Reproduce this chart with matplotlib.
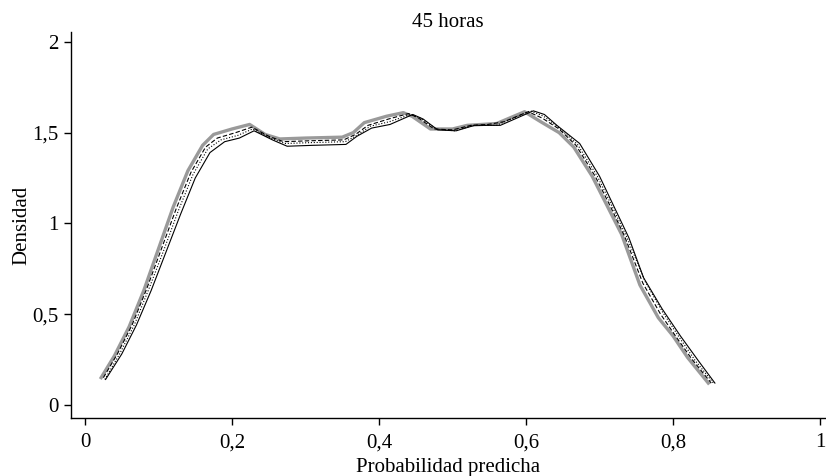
import matplotlib.pyplot as plt
from matplotlib.ticker import FuncFormatter

plt.rcParams['font.family'] = ['Liberation Serif', 'DejaVu Serif']

# densidades (45 horas)
x_gris = [0.022, 0.04, 0.06, 0.08, 0.10, 0.12, 0.14, 0.16, 0.175, 0.20, 0.224, 0.245, 0.265, 0.30,
          0.35, 0.365, 0.38, 0.41, 0.433, 0.445, 0.47, 0.50, 0.52, 0.54, 0.56, 0.598, 0.62, 0.645,
          0.665, 0.69, 0.71, 0.73, 0.755, 0.78, 0.80, 0.82, 0.848]
y_gris = [0.15, 0.27, 0.43, 0.63, 0.86, 1.09, 1.29, 1.43, 1.49, 1.52, 1.545, 1.49, 1.465, 1.47,
          1.475, 1.50, 1.555, 1.59, 1.61, 1.59, 1.52, 1.52, 1.54, 1.545, 1.55, 1.615, 1.56, 1.50,
          1.42, 1.26, 1.10, 0.94, 0.66, 0.48, 0.38, 0.26, 0.12]

x_guion = [0.025, 0.044, 0.064, 0.084, 0.104, 0.124, 0.144, 0.164, 0.18, 0.205, 0.227, 0.25, 0.27,
           0.305, 0.352, 0.368, 0.385, 0.413, 0.44, 0.452, 0.475, 0.50, 0.525, 0.548, 0.57, 0.603,
           0.622, 0.645, 0.668, 0.694, 0.714, 0.734, 0.759, 0.783, 0.805, 0.826, 0.852]
y_guion = [0.15, 0.28, 0.44, 0.64, 0.86, 1.08, 1.28, 1.42, 1.47, 1.50, 1.53, 1.48, 1.45,
           1.455, 1.46, 1.49, 1.54, 1.575, 1.605, 1.585, 1.52, 1.515, 1.54, 1.545, 1.56, 1.615,
           1.58, 1.52, 1.43, 1.26, 1.10, 0.93, 0.67, 0.50, 0.37, 0.25, 0.12]

x_punto = [0.027, 0.047, 0.067, 0.087, 0.107, 0.127, 0.147, 0.167, 0.185, 0.208, 0.228, 0.252, 0.272,
           0.308, 0.354, 0.37, 0.388, 0.414, 0.443, 0.456, 0.478, 0.503, 0.528, 0.56, 0.606, 0.624,
           0.644, 0.67, 0.697, 0.717, 0.737, 0.762, 0.786, 0.808, 0.83, 0.855]
y_punto = [0.14, 0.28, 0.44, 0.64, 0.85, 1.07, 1.27, 1.41, 1.46, 1.485, 1.52, 1.47, 1.44,
           1.445, 1.45, 1.485, 1.535, 1.56, 1.60, 1.58, 1.52, 1.51, 1.54, 1.54, 1.62, 1.59,
           1.53, 1.435, 1.26, 1.095, 0.925, 0.68, 0.51, 0.375, 0.245, 0.12]

x_negro = [0.028, 0.05, 0.07, 0.09, 0.11, 0.13, 0.15, 0.17, 0.19, 0.21, 0.23, 0.255, 0.275, 0.31,
           0.355, 0.37, 0.39, 0.415, 0.446, 0.46, 0.48, 0.505, 0.53, 0.565, 0.61, 0.625, 0.642,
           0.673, 0.70, 0.72, 0.74, 0.76, 0.785, 0.81, 0.835, 0.857]
y_negro = [0.14, 0.28, 0.44, 0.63, 0.84, 1.05, 1.25, 1.39, 1.45, 1.47, 1.51, 1.46, 1.425, 1.43,
           1.435, 1.48, 1.525, 1.545, 1.60, 1.575, 1.515, 1.51, 1.54, 1.54, 1.62, 1.60, 1.54,
           1.44, 1.26, 1.09, 0.92, 0.70, 0.53, 0.38, 0.24, 0.12]

xticks = [0, 0.2, 0.4, 0.6, 0.8, 1]
yticks = [0, 0.5, 1, 1.5, 2]

fig = plt.figure(figsize=(8.26, 4.76), dpi=100)
ax = fig.add_axes([0.086, 0.122, 0.913, 0.811])

ax.plot(x_gris, y_gris, color='#9a9a9a', lw=2.4, solid_joinstyle='round')
ax.plot(x_guion, y_guion, color='black', lw=0.8, linestyle=(0, (4, 2)))
ax.plot(x_punto, y_punto, color='black', lw=0.8, linestyle=(0, (1, 1.6)))
ax.plot(x_negro, y_negro, color='black', lw=0.8)

ax.set_xlim(-0.019, 1.007)
ax.set_ylim(-0.072, 2.055)
ax.set_xticks(xticks)
ax.set_yticks(yticks)
coma = FuncFormatter(lambda v, p: ('%g' % v).replace('.', ','))
ax.xaxis.set_major_formatter(coma)
ax.yaxis.set_major_formatter(coma)
ax.tick_params(direction='out', length=5, width=1, labelsize=15)
ax.tick_params(axis='x', pad=6)
ax.tick_params(axis='y', pad=4)
for s in ['top', 'right']:
    ax.spines[s].set_visible(False)
for s in ['left', 'bottom']:
    ax.spines[s].set_linewidth(1)

ax.set_title('45 horas', fontsize=15, pad=3)
ax.set_xlabel('Probabilidad predicha', fontsize=15, labelpad=4)
ax.set_ylabel('Densidad', fontsize=15, labelpad=1)

plt.savefig('out.png', dpi=100)
